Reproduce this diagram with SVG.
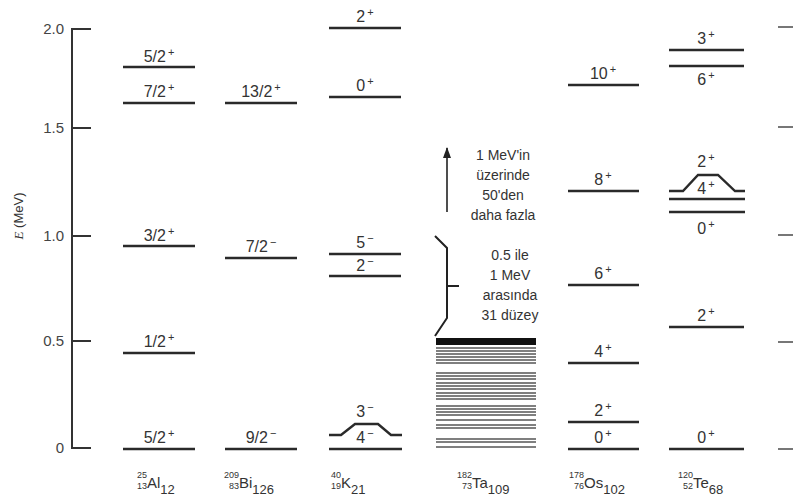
<svg xmlns="http://www.w3.org/2000/svg" width="793" height="503" viewBox="0 0 793 503">
<style>
text{font-family:"Liberation Sans","DejaVu Sans",sans-serif;fill:#333}
.lv{stroke:#2a2a2a;stroke-width:2.4;fill:none}
.ax{stroke:#333;stroke-width:2;fill:none}
.rt{stroke:#555;stroke-width:1.6}
.lb{font-size:16px;text-anchor:middle}
.sp{font-size:11px}
.tk{font-size:15px;text-anchor:end;fill:#444}
.nt{font-size:14px;text-anchor:middle;fill:#333}
.ps{font-size:9px;text-anchor:end}
.el{font-size:15px}
.ns{font-size:13px}
.ta{stroke:#555;stroke-width:1.5}
</style>
<defs>
<marker id="ah" markerWidth="11" markerHeight="8" refX="10" refY="4" orient="auto" markerUnits="userSpaceOnUse" viewBox="0 0 11 8">
<path d="M0,0 L11,4 L0,8 Z" fill="#222"/>
</marker>
</defs>

<g id="axis">
<line class="ax" x1="72" y1="28" x2="72" y2="449"/>
<line class="ax" x1="72" y1="29" x2="91" y2="29"/>
<line class="ax" x1="72" y1="128" x2="91" y2="128"/>
<line class="ax" x1="72" y1="236" x2="91" y2="236"/>
<line class="ax" x1="72" y1="341" x2="91" y2="341"/>
<line class="ax" x1="72" y1="448" x2="91" y2="448"/>
<text class="tk" x="64" y="34">2.0</text>
<text class="tk" x="64" y="133">1.5</text>
<text class="tk" x="64" y="241">1.0</text>
<text class="tk" x="64" y="346">0.5</text>
<text class="tk" x="64" y="453">0</text>
<text x="23" y="216" transform="rotate(-90 23 216)" style="font-size:13px;text-anchor:middle;fill:#333"><tspan style="font-style:italic;font-family:'Liberation Serif',serif">E</tspan> (MeV)</text>
</g>

<g id="right-axis">
<line class="rt" x1="778" y1="27" x2="793" y2="27"/>
<line class="rt" x1="778" y1="127" x2="793" y2="127"/>
<line class="rt" x1="778" y1="235" x2="793" y2="235"/>
<line class="rt" x1="778" y1="342" x2="793" y2="342"/>
<line class="rt" x1="778" y1="449" x2="793" y2="449"/>
</g>

<g id="Al">
<line class="lv" x1="123" y1="67" x2="195" y2="67"/>
<text class="lb" x="159" y="62">5/2<tspan class="sp" dx="2" dy="-6">+</tspan></text>
<line class="lv" x1="123" y1="103" x2="195" y2="103"/>
<text class="lb" x="159" y="97">7/2<tspan class="sp" dx="2" dy="-6">+</tspan></text>
<line class="lv" x1="123" y1="246" x2="195" y2="246"/>
<text class="lb" x="159" y="241">3/2<tspan class="sp" dx="2" dy="-6">+</tspan></text>
<line class="lv" x1="123" y1="353" x2="195" y2="353"/>
<text class="lb" x="159" y="347">1/2<tspan class="sp" dx="2" dy="-6">+</tspan></text>
<line class="lv" x1="123" y1="449" x2="195" y2="449"/>
<text class="lb" x="159" y="443">5/2<tspan class="sp" dx="2" dy="-6">+</tspan></text>
<text x="147" y="478" class="ps">25</text>
<text x="147" y="489" class="ps">13</text>
<text x="147" y="488" class="el">Al<tspan class="ns" dy="6">12</tspan></text>
</g>

<g id="Bi">
<line class="lv" x1="225" y1="103" x2="297" y2="103"/>
<text class="lb" x="261" y="97">13/2<tspan class="sp" dx="2" dy="-6">+</tspan></text>
<line class="lv" x1="225" y1="258" x2="297" y2="258"/>
<text class="lb" x="261" y="252">7/2<tspan class="sp" dx="2" dy="-6">−</tspan></text>
<line class="lv" x1="225" y1="449" x2="297" y2="449"/>
<text class="lb" x="261" y="443">9/2<tspan class="sp" dx="2" dy="-6">−</tspan></text>
<text x="239" y="478" class="ps">209</text>
<text x="239" y="489" class="ps">83</text>
<text x="239" y="488" class="el">Bi<tspan class="ns" dy="6">126</tspan></text>
</g>

<g id="K">
<line class="lv" x1="329" y1="28" x2="401" y2="28"/>
<text class="lb" x="365" y="22">2<tspan class="sp" dx="2" dy="-6">+</tspan></text>
<line class="lv" x1="329" y1="97" x2="401" y2="97"/>
<text class="lb" x="365" y="91">0<tspan class="sp" dx="2" dy="-6">+</tspan></text>
<line class="lv" x1="329" y1="254" x2="401" y2="254"/>
<text class="lb" x="365" y="248">5<tspan class="sp" dx="2" dy="-6">−</tspan></text>
<line class="lv" x1="329" y1="276" x2="401" y2="276"/>
<text class="lb" x="365" y="271">2<tspan class="sp" dx="2" dy="-6">−</tspan></text>
<path class="lv" d="M329,435 L341,435 L355,424 L378,424 L391,435 L402,435"/>
<text class="lb" x="365" y="417">3<tspan class="sp" dx="2" dy="-6">−</tspan></text>
<text class="lb" x="365" y="443">4<tspan class="sp" dx="2" dy="-6">−</tspan></text>
<line class="lv" x1="329" y1="449" x2="402" y2="449"/>
<text x="341" y="478" class="ps">40</text>
<text x="341" y="489" class="ps">19</text>
<text x="341" y="488" class="el">K<tspan class="ns" dy="6">21</tspan></text>
</g>

<g id="Ta">
<rect x="436" y="338" width="100" height="7" fill="#111"/>
<g class="ta">
<line x1="436" y1="348" x2="536" y2="348"/>
<line x1="436" y1="351" x2="536" y2="351"/>
<line x1="436" y1="354" x2="536" y2="354"/>
<line x1="436" y1="357" x2="536" y2="357"/>
<line x1="436" y1="360" x2="536" y2="360"/>
<line x1="436" y1="363" x2="536" y2="363"/>
<line x1="436" y1="373" x2="536" y2="373"/>
<line x1="436" y1="376" x2="536" y2="376"/>
<line x1="436" y1="379" x2="536" y2="379"/>
<line x1="436" y1="383" x2="536" y2="383"/>
<line x1="436" y1="386" x2="536" y2="386"/>
<line x1="436" y1="389" x2="536" y2="389"/>
<line x1="436" y1="393" x2="536" y2="393"/>
<line x1="436" y1="396" x2="536" y2="396"/>
<line x1="436" y1="399" x2="536" y2="399"/>
<line x1="436" y1="406" x2="536" y2="406"/>
<line x1="436" y1="409" x2="536" y2="409"/>
<line x1="436" y1="412" x2="536" y2="412"/>
<line x1="436" y1="415" x2="536" y2="415"/>
<line x1="436" y1="420" x2="536" y2="420"/>
<line x1="436" y1="425" x2="536" y2="425"/>
<line x1="436" y1="428" x2="536" y2="428"/>
<line x1="436" y1="439" x2="536" y2="439"/>
<line x1="436" y1="442" x2="536" y2="442"/>
<line x1="436" y1="447" x2="536" y2="447"/>
</g>
<line x1="447" y1="212" x2="447" y2="148" stroke="#222" stroke-width="1.6" marker-end="url(#ah)"/>
<text class="nt" x="503" y="160">1 MeV'in</text>
<text class="nt" x="503" y="180">üzerinde</text>
<text class="nt" x="503" y="200">50'den</text>
<text class="nt" x="503" y="220">daha fazla</text>
<path d="M435,236 L447,248 L447,318 L435,336 M447,286 L459,286" stroke="#222" stroke-width="2" fill="none"/>
<text class="nt" x="510" y="260">0.5 ile</text>
<text class="nt" x="510" y="280">1 MeV</text>
<text class="nt" x="510" y="300">arasında</text>
<text class="nt" x="510" y="320">31 düzey</text>
<text x="472" y="478" class="ps">182</text>
<text x="472" y="489" class="ps">73</text>
<text x="472" y="488" class="el">Ta<tspan class="ns" dy="6">109</tspan></text>
</g>

<g id="Os">
<line class="lv" x1="568" y1="85" x2="639" y2="85"/>
<text class="lb" x="603" y="79">10<tspan class="sp" dx="2" dy="-6">+</tspan></text>
<line class="lv" x1="568" y1="191" x2="639" y2="191"/>
<text class="lb" x="603" y="185">8<tspan class="sp" dx="2" dy="-6">+</tspan></text>
<line class="lv" x1="568" y1="285" x2="639" y2="285"/>
<text class="lb" x="603" y="279">6<tspan class="sp" dx="2" dy="-6">+</tspan></text>
<line class="lv" x1="568" y1="363" x2="639" y2="363"/>
<text class="lb" x="603" y="357">4<tspan class="sp" dx="2" dy="-6">+</tspan></text>
<line class="lv" x1="568" y1="422" x2="639" y2="422"/>
<text class="lb" x="603" y="416">2<tspan class="sp" dx="2" dy="-6">+</tspan></text>
<line class="lv" x1="568" y1="449" x2="639" y2="449"/>
<text class="lb" x="603" y="443">0<tspan class="sp" dx="2" dy="-6">+</tspan></text>
<text x="584" y="478" class="ps">178</text>
<text x="584" y="489" class="ps">76</text>
<text x="584" y="488" class="el">Os<tspan class="ns" dy="6">102</tspan></text>
</g>

<g id="Te">
<line class="lv" x1="669" y1="50" x2="744" y2="50"/>
<text class="lb" x="706" y="44">3<tspan class="sp" dx="2" dy="-6">+</tspan></text>
<line class="lv" x1="669" y1="66" x2="744" y2="66"/>
<text class="lb" x="706" y="85">6<tspan class="sp" dx="2" dy="-6">+</tspan></text>
<path class="lv" d="M669,191 L683,191 L698,175 L718,175 L735,191 L745,191"/>
<text class="lb" x="706" y="167">2<tspan class="sp" dx="2" dy="-6">+</tspan></text>
<text class="lb" x="706" y="194">4<tspan class="sp" dx="2" dy="-6">+</tspan></text>
<line class="lv" x1="669" y1="199" x2="745" y2="199"/>
<line class="lv" x1="669" y1="212" x2="745" y2="212"/>
<text class="lb" x="706" y="234">0<tspan class="sp" dx="2" dy="-6">+</tspan></text>
<line class="lv" x1="669" y1="327" x2="744" y2="327"/>
<text class="lb" x="706" y="321">2<tspan class="sp" dx="2" dy="-6">+</tspan></text>
<line class="lv" x1="669" y1="449" x2="744" y2="449"/>
<text class="lb" x="706" y="443">0<tspan class="sp" dx="2" dy="-6">+</tspan></text>
<text x="693" y="478" class="ps">120</text>
<text x="693" y="489" class="ps">52</text>
<text x="693" y="488" class="el">Te<tspan class="ns" dy="6">68</tspan></text>
</g>
</svg>
